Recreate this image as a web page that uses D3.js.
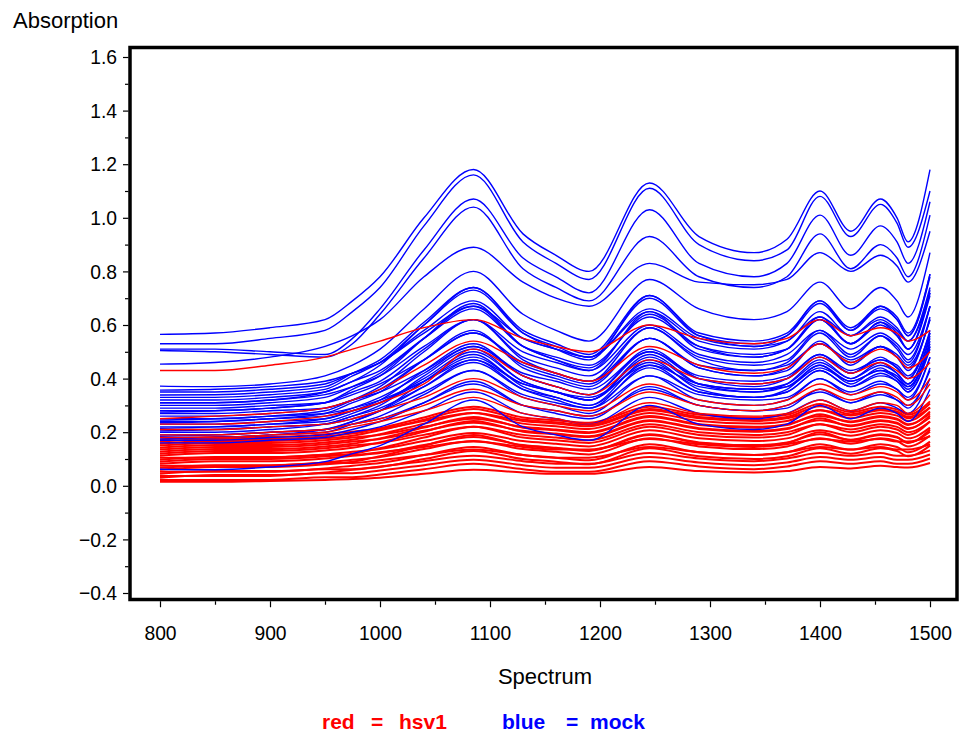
<!DOCTYPE html>
<html><head><meta charset="utf-8">
<script src="https://cdn.jsdelivr.net/npm/d3@7"></script>
<style>
body{margin:0;background:#fff;}
svg{display:block;font-family:"Liberation Sans",Arial,Helvetica,sans-serif;}
</style></head><body>
<svg id="chart" width="960" height="733"></svg>
<script>
const wavenumbers = [800, 850, 900, 950, 975, 1000, 1040, 1085, 1130, 1160, 1190, 1245, 1290, 1340, 1370, 1400, 1428, 1455, 1470, 1480, 1500];

const xTicks = [800, 900, 1000, 1100, 1200, 1300, 1400, 1500];
const xMinorTicks = [850, 950, 1050, 1150, 1250, 1350, 1450];
const yTicks = [-0.4, -0.2, 0.0, 0.2, 0.4, 0.6, 0.8, 1.0, 1.2, 1.4, 1.6];
const yMinorTicks = [-0.3, -0.1, 0.1, 0.3, 0.5, 0.7, 0.9, 1.1, 1.3, 1.5];

// blue = mock
const mockSpectra = [
  [.565,.57,.59,.62,.69,.78,1.00,1.18,.94,.86,.80,1.13,.93,.87,.92,1.10,.95,1.07,1.00,.91,1.18],
  [.53,.53,.55,.58,.65,.74,.97,1.16,.91,.83,.77,1.11,.90,.84,.88,1.08,.93,1.05,.98,.89,1.10],
  [.51,.51,.50,.49,.55,.66,.88,1.07,.85,.78,.72,1.03,.83,.78,.83,1.01,.86,.97,.91,.83,1.06],
  [.505,.50,.49,.48,.53,.64,.85,1.04,.81,.74,.69,.93,.78,.74,.78,.94,.81,.90,.85,.78,1.01],
  [.454,.46,.48,.52,.56,.62,.78,.89,.76,.70,.67,.83,.76,.75,.77,.87,.80,.86,.82,.76,.95],
  [.372,.37,.38,.41,.45,.51,.66,.80,.64,.58,.54,.77,.66,.62,.65,.76,.66,.74,.69,.63,.87],
  [.357,.36,.37,.39,.42,.46,.57,.67,.55,.51,.48,.65,.54,.51,.54,.63,.56,.62,.58,.54,.72],
  [.339,.34,.35,.37,.42,.47,.61,.74,.58,.53,.49,.71,.57,.54,.57,.69,.59,.67,.63,.57,.79],
  [.32,.32,.33,.35,.39,.43,.55,.66,.52,.48,.45,.63,.52,.49,.51,.62,.53,.60,.56,.51,.71],
  [.31,.31,.32,.34,.37,.41,.52,.62,.50,.46,.43,.60,.49,.46,.49,.58,.51,.57,.53,.49,.67],
  [.30,.30,.31,.33,.37,.42,.55,.67,.52,.47,.44,.64,.52,.48,.51,.62,.53,.61,.56,.51,.72],
  [.29,.29,.30,.31,.34,.38,.47,.57,.46,.42,.39,.55,.45,.43,.45,.53,.47,.52,.49,.45,.62],
  [.28,.28,.29,.31,.35,.39,.51,.62,.48,.44,.41,.59,.48,.45,.47,.58,.49,.56,.52,.47,.67],
  [.27,.27,.28,.29,.32,.35,.43,.52,.42,.39,.36,.50,.41,.39,.41,.49,.43,.47,.45,.41,.57],
  [.26,.26,.27,.29,.32,.36,.47,.57,.45,.41,.38,.55,.44,.41,.44,.53,.46,.52,.48,.44,.62],
  [.25,.25,.26,.27,.29,.32,.39,.47,.38,.35,.33,.45,.38,.36,.37,.44,.39,.43,.40,.37,.52],
  [.24,.24,.25,.27,.31,.35,.47,.58,.44,.40,.37,.55,.44,.41,.43,.54,.45,.52,.48,.43,.63],
  [.23,.23,.24,.25,.28,.31,.39,.48,.38,.35,.32,.46,.37,.35,.37,.45,.39,.43,.41,.37,.53],
  [.22,.22,.23,.24,.27,.31,.40,.50,.39,.35,.32,.48,.38,.36,.38,.46,.40,.45,.42,.38,.55],
  [.21,.21,.22,.23,.25,.28,.35,.43,.34,.31,.29,.41,.34,.32,.33,.40,.35,.39,.36,.33,.48],
  [.20,.20,.21,.23,.26,.30,.41,.51,.39,.35,.32,.49,.38,.35,.38,.47,.40,.46,.42,.38,.56],
  [.19,.19,.20,.21,.23,.25,.31,.38,.30,.28,.26,.36,.30,.28,.30,.35,.31,.34,.32,.30,.43],
  [.18,.18,.19,.20,.23,.26,.34,.43,.33,.30,.27,.41,.32,.30,.32,.40,.34,.38,.36,.32,.48],
  [.17,.17,.18,.19,.21,.24,.31,.39,.30,.27,.25,.37,.30,.28,.29,.36,.31,.35,.32,.29,.44],
  [.16,.16,.17,.18,.20,.22,.28,.35,.27,.25,.23,.33,.27,.25,.27,.32,.28,.31,.29,.27,.40],
  [.062,.06,.07,.09,.12,.15,.23,.32,.22,.19,.17,.30,.23,.21,.23,.30,.25,.29,.27,.24,.36],
  [.33,.33,.34,.36,.41,.46,.60,.73,.57,.52,.48,.70,.56,.53,.56,.68,.58,.66,.62,.56,.78],
  [.215,.22,.23,.25,.28,.32,.43,.53,.41,.37,.34,.51,.40,.37,.40,.49,.42,.48,.44,.40,.58],
  [.245,.25,.26,.28,.32,.37,.50,.62,.47,.42,.39,.59,.47,.43,.46,.57,.48,.56,.51,.46,.67],
  [.185,.19,.20,.21,.24,.28,.37,.47,.36,.32,.29,.45,.35,.33,.35,.43,.37,.42,.39,.35,.52],
  [.35,.35,.36,.38,.42,.46,.58,.69,.55,.51,.48,.66,.55,.52,.54,.65,.56,.63,.59,.54,.74],
  [.235,.24,.25,.26,.29,.33,.42,.52,.41,.37,.34,.50,.40,.38,.40,.48,.42,.47,.44,.40,.57],
  [.205,.21,.22,.23,.26,.29,.37,.46,.36,.33,.30,.44,.35,.33,.35,.43,.37,.41,.39,.35,.51],
  [.275,.28,.29,.31,.36,.41,.55,.68,.52,.47,.43,.65,.51,.48,.51,.63,.53,.61,.57,.51,.73],
  [.175,.18,.19,.21,.24,.28,.39,.49,.37,.33,.30,.47,.36,.33,.36,.45,.38,.44,.40,.36,.54],
  [.31,.31,.32,.35,.39,.45,.60,.74,.57,.51,.47,.71,.56,.52,.56,.69,.58,.67,.62,.56,.79]
];

// red = hsv1, the dense low band
const hsv1Spectra = [
  [.015,.015,.018,.022,.025,.03,.045,.06,.05,.045,.045,.07,.055,.05,.055,.07,.065,.075,.07,.068,.085],
  [.022,.022,.022,.032,.032,.042,.062,.082,.062,.052,.052,.092,.072,.062,.072,.092,.082,.092,.082,.082,.102],
  [.03,.04,.04,.05,.06,.07,.10,.13,.10,.09,.08,.14,.11,.10,.11,.14,.12,.14,.13,.11,.15],
  [.037,.037,.037,.047,.047,.057,.077,.097,.077,.067,.067,.107,.087,.077,.087,.107,.097,.107,.097,.097,.117],
  [.045,.055,.055,.065,.075,.085,.115,.145,.115,.105,.095,.155,.125,.115,.125,.155,.135,.155,.145,.125,.165],
  [.052,.052,.052,.062,.062,.072,.092,.112,.092,.082,.082,.122,.102,.092,.102,.122,.112,.122,.112,.112,.132],
  [.06,.07,.07,.08,.09,.11,.15,.19,.15,.14,.13,.19,.16,.15,.16,.20,.17,.19,.18,.16,.21],
  [.067,.077,.077,.087,.097,.107,.137,.167,.137,.127,.117,.177,.147,.137,.147,.177,.157,.177,.167,.147,.187],
  [.075,.075,.075,.085,.085,.095,.115,.135,.115,.105,.105,.145,.125,.115,.125,.145,.135,.145,.135,.135,.155],
  [.082,.092,.092,.102,.112,.122,.152,.182,.152,.142,.132,.192,.162,.152,.162,.192,.172,.192,.182,.162,.202],
  [.09,.10,.10,.11,.12,.14,.18,.22,.18,.17,.16,.22,.19,.18,.19,.23,.20,.22,.21,.19,.24],
  [.097,.107,.107,.117,.127,.137,.167,.197,.167,.157,.147,.207,.177,.167,.177,.207,.187,.207,.197,.177,.217],
  [.105,.105,.105,.115,.115,.125,.145,.165,.145,.135,.135,.175,.155,.145,.155,.175,.165,.175,.165,.165,.185],
  [.112,.122,.122,.132,.142,.162,.202,.242,.202,.192,.182,.242,.212,.202,.212,.252,.222,.242,.232,.212,.262],
  [.12,.13,.13,.14,.15,.16,.19,.22,.19,.18,.17,.23,.20,.19,.20,.23,.21,.23,.22,.20,.24],
  [.127,.137,.137,.147,.157,.177,.217,.257,.217,.207,.197,.257,.227,.217,.227,.267,.237,.257,.247,.227,.277],
  [.135,.145,.145,.155,.165,.175,.205,.235,.205,.195,.185,.245,.215,.205,.215,.245,.225,.245,.235,.215,.255],
  [.142,.152,.152,.162,.172,.192,.232,.272,.232,.222,.212,.272,.242,.232,.242,.282,.252,.272,.262,.242,.292],
  [.15,.16,.16,.17,.18,.19,.22,.25,.22,.21,.20,.26,.23,.22,.23,.26,.24,.26,.25,.23,.27],
  [.157,.167,.167,.177,.187,.207,.247,.287,.247,.237,.227,.287,.257,.247,.257,.297,.267,.287,.277,.257,.307],
  [.165,.175,.175,.185,.195,.215,.255,.295,.255,.245,.235,.295,.265,.255,.265,.305,.275,.295,.285,.265,.315],
  [.172,.182,.182,.192,.202,.212,.242,.272,.242,.232,.222,.282,.252,.242,.252,.282,.262,.282,.272,.252,.292]
];

// red = hsv1, the few spectra lying among the mock ones
const hsv1UpperSpectra = [
  [.43,.43,.45,.48,.51,.54,.59,.62,.55,.52,.50,.60,.55,.53,.55,.62,.56,.59,.57,.54,.58],
  [.25,.26,.27,.29,.32,.36,.45,.54,.46,.42,.39,.52,.45,.42,.44,.53,.46,.51,.48,.44,.50],
  [.23,.23,.24,.26,.28,.31,.38,.51,.41,.37,.34,.47,.40,.38,.40,.48,.42,.46,.43,.40,.46],
  [.21,.21,.22,.23,.25,.28,.33,.40,.33,.30,.28,.38,.32,.30,.32,.38,.34,.37,.35,.32,.40],
  [.19,.19,.20,.21,.23,.25,.30,.36,.30,.28,.26,.35,.30,.28,.30,.36,.32,.35,.33,.30,.38],
  [.18,.18,.19,.20,.22,.24,.28,.33,.27,.25,.23,.31,.27,.26,.27,.32,.28,.31,.30,.27,.34]
];

const svg = d3.select('#chart');
const x = d3.scaleLinear().domain([800, 1500]).range([160, 930]);
const y = d3.scaleLinear().domain([-0.4, 1.6]).range([593, 57]);
const frame = {left: 130, top: 47.5, right: 957, bottom: 599.5};
const FS = 21, TFS = 22, SQ = 0.92;

const line = d3.line()
  .x((d, i) => x(wavenumbers[i]))
  .y(d => y(d))
  .curve(d3.curveMonotoneX);

const plot = svg.append('g').attr('fill', 'none');
plot.selectAll('path.hsv1').data(hsv1Spectra).join('path')
  .attr('class', 'hsv1').attr('d', line).attr('stroke', '#ff0000').attr('stroke-width', 2);
plot.selectAll('path.mock').data(mockSpectra).join('path')
  .attr('class', 'mock').attr('d', line).attr('stroke', '#0000ff').attr('stroke-width', 1.4);
plot.selectAll('path.hsv1u').data(hsv1UpperSpectra).join('path')
  .attr('class', 'hsv1u').attr('d', line).attr('stroke', '#ff0000').attr('stroke-width', 1.4);

// axes
const fmt = d => (d < 0 ? '\u2212' : '') + Math.abs(d).toFixed(1);
const yAxisG = svg.append('g').attr('transform', `translate(${frame.left - 1.5},0)`)
  .call(d3.axisLeft(y).tickValues(yTicks).tickSize(5.5).tickPadding(6).tickFormat(fmt));
svg.append('g').attr('transform', `translate(${frame.left - 1.5},0)`)
  .call(d3.axisLeft(y).tickValues(yMinorTicks).tickSize(3.5).tickFormat(''));
const xAxisG = svg.append('g').attr('transform', `translate(0,${frame.bottom + 1.75})`)
  .call(d3.axisBottom(x).tickValues(xTicks).tickSize(6).tickPadding(18).tickFormat(d3.format('d')));
svg.append('g').attr('transform', `translate(0,${frame.bottom + 1.75})`)
  .call(d3.axisBottom(x).tickValues(xMinorTicks).tickSize(3.5).tickFormat(''));
svg.selectAll('.domain').remove();
svg.selectAll('.tick line').attr('stroke', '#000').attr('stroke-width', 1.2);
svg.selectAll('.tick text').attr('font-size', FS).attr('fill', '#000')
  .attr('font-family', '"Liberation Sans",Arial,sans-serif');
yAxisG.selectAll('.tick text').attr('x', -11.5 / SQ).attr('transform', `scale(${SQ},1)`);
xAxisG.selectAll('.tick text').attr('transform', `scale(${SQ},1)`);

// frame
svg.append('rect')
  .attr('x', frame.left).attr('y', frame.top)
  .attr('width', frame.right - frame.left).attr('height', frame.bottom - frame.top)
  .attr('fill', 'none').attr('stroke', '#000').attr('stroke-width', 3.5);

// titles
svg.append('text').attr('x', 13).attr('y', 28).attr('font-size', TFS).text('Absorption');
svg.append('text').attr('x', (x(800) + x(1500)) / 2).attr('y', 684)
  .attr('text-anchor', 'middle').attr('font-size', TFS).text('Spectrum');

// legend
const legendParts = [
  {t: 'red', x: 322, c: '#ff0000'}, {t: '=', x: 371, c: '#ff0000'}, {t: 'hsv1', x: 399, c: '#ff0000'},
  {t: 'blue', x: 502, c: '#0000ff'}, {t: '=', x: 566, c: '#0000ff'}, {t: 'mock', x: 590, c: '#0000ff'}
];
svg.selectAll('text.legend').data(legendParts).join('text')
  .attr('class', 'legend').attr('x', d => d.x).attr('y', 729)
  .attr('font-size', FS).attr('font-weight', 'bold').attr('fill', d => d.c).text(d => d.t);
</script>
</body></html>
